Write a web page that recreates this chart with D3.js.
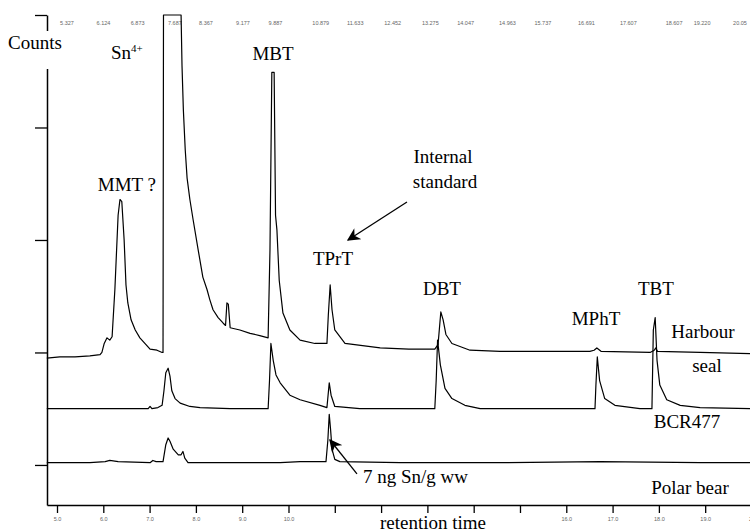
<!DOCTYPE html>
<html>
<head>
<meta charset="utf-8">
<script src="https://cdn.jsdelivr.net/npm/d3@7/dist/d3.min.js"></script>
<style>
  body { margin: 0; background: #fff; }
  svg { display: block; }
</style>
</head>
<body>
<svg id="chart" width="750" height="532"></svg>
<script>
// chromatogram: retention time (min) vs counts, three stacked traces

// baseline offset of each trace (counts units, one left tick = 1)
const traceNames = ["Harbour seal", "BCR477", "Polar bear"];
const traceOffsets = [1.0, 0.5, 0.02];

// [retention time, signal above own baseline]
const sealData = [
  [4.78, -0.05], [5.06, -0.04], [5.39, -0.04], [5.71, -0.03], [5.93, -0.02],
  [5.97, 0.00], [6.02, 0.08], [6.08, 0.13], [6.14, 0.11], [6.19, 0.14],
  [6.25, 0.56], [6.32, 1.22], [6.36, 1.36], [6.40, 1.34], [6.45, 1.00],
  [6.49, 0.60], [6.53, 0.44], [6.60, 0.29], [6.69, 0.20], [6.79, 0.13],
  [7.01, 0.03], [7.16, 0.02], [7.27, 0.00], [7.29, 0.00], [7.30, 3.00],
  [7.68, 3.00], [7.70, 2.55], [7.73, 2.15], [7.77, 1.80], [7.81, 1.55],
  [7.87, 1.36], [7.94, 1.18], [8.05, 0.91], [8.15, 0.67], [8.24, 0.56],
  [8.30, 0.47], [8.37, 0.38], [8.48, 0.31], [8.59, 0.26], [8.64, 0.24],
  [8.67, 0.44], [8.70, 0.43], [8.74, 0.22], [8.95, 0.20], [9.17, 0.17],
  [9.38, 0.15], [9.56, 0.13], [9.60, 0.91], [9.64, 2.49], [9.69, 2.49],
  [9.72, 1.22], [9.75, 1.09], [9.80, 0.64], [9.88, 0.35], [10.03, 0.20],
  [10.25, 0.11], [10.57, 0.08], [10.83, 0.08], [10.86, 0.33], [10.90, 0.60],
  [10.94, 0.38], [11.00, 0.20], [11.22, 0.08], [11.98, 0.04], [12.60, 0.03],
  [13.16, 0.03], [13.23, 0.07], [13.29, 0.36], [13.34, 0.29], [13.40, 0.16],
  [13.53, 0.08], [13.92, 0.02], [14.57, 0.01], [15.50, 0.01], [16.51, 0.01],
  [16.60, 0.02], [16.66, 0.04], [16.75, 0.01], [17.81, 0.00], [17.90, 0.02],
  [17.93, 0.04], [17.97, 0.01], [18.89, 0.00], [19.97, -0.01]
];

const bcrData = [
  [4.78, 0.00], [5.50, 0.00], [6.36, 0.00], [6.97, 0.00], [7.01, 0.02],
  [7.05, 0.00], [7.18, 0.01], [7.27, 0.03], [7.31, 0.16], [7.35, 0.32],
  [7.40, 0.36], [7.44, 0.29], [7.48, 0.16], [7.55, 0.09], [7.66, 0.05],
  [7.87, 0.02], [8.09, 0.01], [8.74, 0.00], [9.56, 0.00], [9.59, 0.25],
  [9.62, 0.58], [9.67, 0.43], [9.73, 0.30], [9.82, 0.23], [10.03, 0.12],
  [10.25, 0.08], [10.68, 0.03], [10.83, 0.01], [10.88, 0.23], [10.92, 0.12],
  [11.00, 0.02], [11.54, 0.00], [12.41, 0.00], [13.16, 0.00], [13.19, 0.25],
  [13.22, 0.61], [13.28, 0.39], [13.38, 0.18], [13.53, 0.09], [13.81, 0.03],
  [14.14, 0.00], [15.65, 0.00], [16.62, 0.00], [16.64, 0.21], [16.67, 0.46],
  [16.72, 0.25], [16.83, 0.09], [17.05, 0.03], [17.59, 0.00], [17.85, 0.00],
  [17.88, 0.70], [17.92, 0.81], [17.96, 0.43], [18.02, 0.21], [18.17, 0.08],
  [18.46, 0.03], [18.89, 0.01], [19.97, 0.00]
];

const polarData = [
  [4.78, 0.00], [5.71, 0.00], [6.04, 0.01], [6.14, 0.02], [6.32, 0.01],
  [7.01, 0.00], [7.07, 0.02], [7.14, 0.01], [7.29, 0.01], [7.35, 0.16],
  [7.40, 0.22], [7.44, 0.19], [7.51, 0.12], [7.62, 0.07], [7.68, 0.07],
  [7.72, 0.10], [7.76, 0.04], [7.83, 0.00], [8.52, 0.00], [9.82, 0.00],
  [10.25, 0.01], [10.81, 0.01], [10.85, 0.20], [10.88, 0.43], [10.91, 0.29],
  [10.94, 0.12], [11.00, 0.03], [11.11, 0.01], [12.41, 0.00], [14.57, 0.00],
  [16.73, 0.01], [18.89, 0.00], [19.97, 0.00]
];

const traces = [sealData, bcrData, polarData];

// scan-time labels along the top
const topLabels = ["5.327", "6.124", "6.873", "7.687", "8.367", "9.177", "9.887",
  "10.879", "11.633", "12.452", "13.275", "14.047", "14.963", "15.737",
  "16.691", "17.607", "18.607", "19.220", "20.05"];

// bottom axis
const bottomTicks = [5, 6, 7, 8, 9, 10, 11, 12, 13, 14, 15, 16, 17, 18, 19, 20];
const bottomLabels = ["5.0", "6.0", "7.0", "8.0", "9.0", "10.0", "", "", "", "", "",
  "16.0", "17.0", "18.0", "19.0", "20"];
const leftTicks = [0, 1, 2, 3, 4];

// peak annotations [text, time, counts]
const peakLabels = [
  ["MMT ?", 6.51, 2.436],
  ["MBT", 9.665, 3.6],
  ["TPrT", 10.96, 1.778],
  ["Internal", 13.337, 2.684],
  ["standard", 13.38, 2.462],
  ["DBT", 13.315, 1.511],
  ["MPhT", 16.641, 1.244],
  ["TBT", 17.937, 1.511],
  ["Harbour", 18.952, 1.129],
  ["seal", 19.039, 0.827],
  ["BCR477", 18.607, 0.329],
  ["Polar bear", 18.672, -0.258]
];

const arrows = [
  { from: [12.559, 2.338], to: [11.285, 2.0] },
  { from: [11.479, -0.08], to: [10.896, 0.222] }
];

const svg = d3.select("#chart");
const serif = '"Liberation Serif"';
const tiny = '"Liberation Sans"';

const x = d3.scaleLinear().domain([4.784, 19.968]).range([47, 750]);
const y = d3.scaleLinear().domain([-0.356, 4]).range([505, 15]);
const xTop = d3.scaleLinear().domain([5.327, 20.05]).range([67, 740]);

svg.append("defs").append("marker")
  .attr("id", "head")
  .attr("viewBox", "0 0 10 10")
  .attr("refX", 9).attr("refY", 5)
  .attr("markerWidth", 13).attr("markerHeight", 13)
  .attr("markerUnits", "userSpaceOnUse")
  .attr("orient", "auto")
  .append("path")
  .attr("d", "M0,0 L10,5 L0,10 L3,5 Z")
  .attr("fill", "#000");

// axes
const xAxis = svg.append("g")
  .attr("transform", `translate(0,${y(-0.356)})`)
  .call(d3.axisBottom(x).tickValues(bottomTicks).tickSize(8).tickSizeOuter(0)
    .tickFormat((d, i) => bottomLabels[i]));
xAxis.select(".domain").attr("stroke-width", 1.5);
xAxis.selectAll(".tick line").attr("stroke-width", 1.3);
xAxis.selectAll(".tick text")
  .style("font-family", tiny)
  .attr("font-size", 5.5).attr("fill", "#666").attr("dy", "0.9em");

const yAxis = svg.append("g")
  .attr("transform", `translate(${x(4.784)},0)`)
  .call(d3.axisLeft(y).tickValues(leftTicks).tickSize(12).tickSizeOuter(0).tickFormat(""));
yAxis.select(".domain").attr("stroke-width", 1.5);
yAxis.selectAll(".tick line").attr("stroke-width", 1.3);

// top scan labels
svg.append("g").selectAll("text")
  .data(topLabels)
  .join("text")
  .style("font-family", tiny)
  .attr("x", d => xTop(+d))
  .attr("y", 25)
  .attr("text-anchor", "middle")
  .attr("font-size", 5.5)
  .attr("fill", "#666")
  .text(d => d);

// traces
const line = d3.line()
  .x(d => x(d[0]))
  .y(d => y(d[1]));

svg.append("g").selectAll("path")
  .data(traces)
  .join("path")
  .attr("d", (d, i) => line(d.map(p => [p[0], p[1] + traceOffsets[i]])))
  .attr("fill", "none")
  .attr("stroke", "#000")
  .attr("stroke-width", 1.2)
  .attr("stroke-linejoin", "round");

// "Counts" label sits over the axis
svg.append("rect").attr("x", 4).attr("y", 31).attr("width", 62).attr("height", 38).attr("fill", "#fff");
svg.append("text")
  .style("font-family", serif)
  .attr("x", 8).attr("y", 49)
  .attr("font-size", 19)
  .text("Counts");

svg.append("text")
  .style("font-family", serif)
  .attr("x", 433).attr("y", 529)
  .attr("text-anchor", "middle")
  .attr("font-size", 19)
  .text("retention time");

// peak labels
svg.append("g").selectAll("text")
  .data(peakLabels)
  .join("text")
  .style("font-family", serif)
  .attr("x", d => x(d[1]))
  .attr("y", d => y(d[2]))
  .attr("text-anchor", "middle")
  .attr("font-size", 19)
  .text(d => d[0]);

const sn = svg.append("text")
  .style("font-family", serif)
  .attr("x", x(6.51)).attr("y", y(3.609))
  .attr("text-anchor", "middle")
  .attr("font-size", 19);
sn.append("tspan").text("Sn");
sn.append("tspan").attr("font-size", 11).attr("dy", -7).text("4+");

svg.append("text")
  .style("font-family", serif)
  .attr("x", x(11.609)).attr("y", y(-0.16))
  .attr("font-size", 19)
  .text("7 ng Sn/g ww");

// arrows
svg.append("g").selectAll("line")
  .data(arrows)
  .join("line")
  .attr("x1", d => x(d.from[0])).attr("y1", d => y(d.from[1]))
  .attr("x2", d => x(d.to[0])).attr("y2", d => y(d.to[1]))
  .attr("stroke", "#000")
  .attr("stroke-width", 1.3)
  .attr("marker-end", "url(#head)");
</script>
</body>
</html>
